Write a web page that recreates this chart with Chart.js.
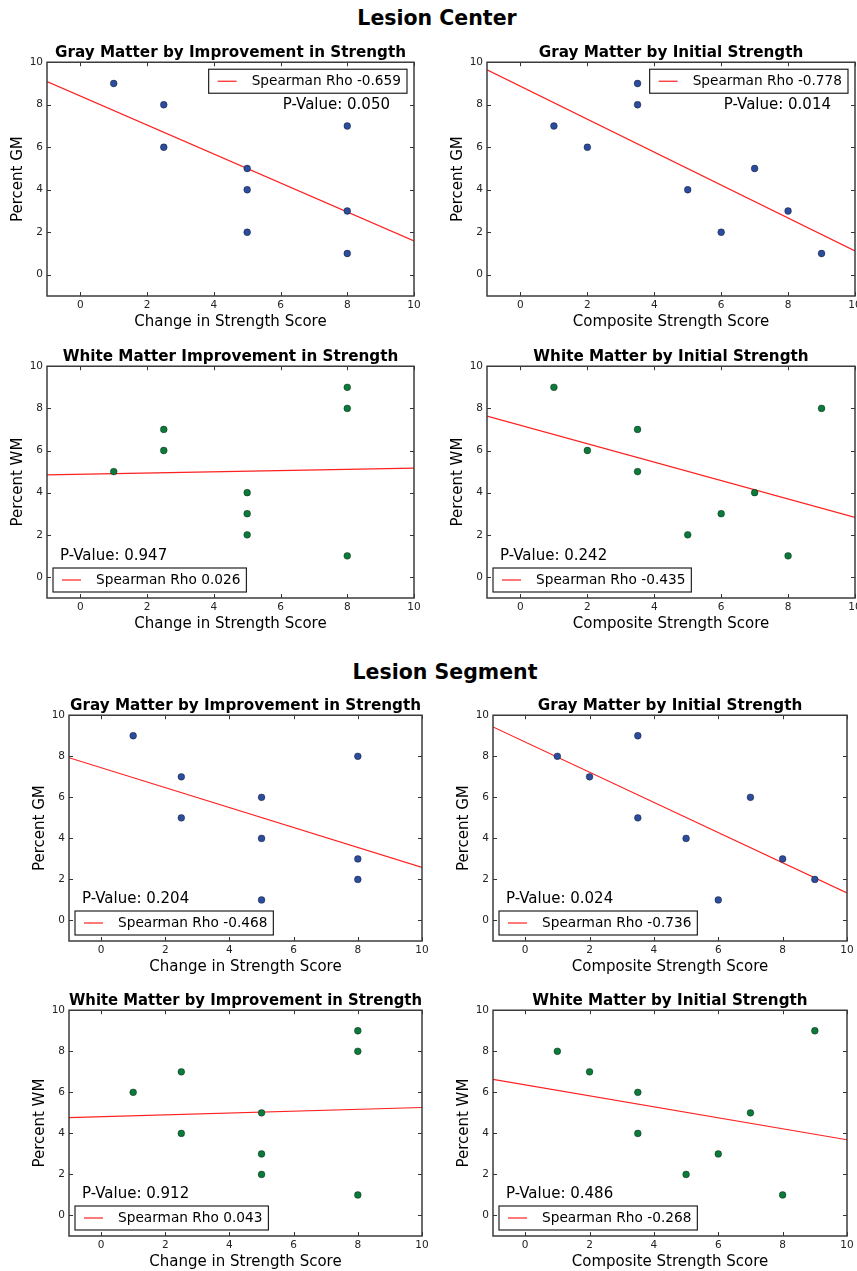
<!DOCTYPE html>
<html lang="en">
<head>
<meta charset="utf-8">
<script src="https://cdn.jsdelivr.net/npm/chart.js@4.4.0/dist/chart.umd.min.js"></script>
<style>
    html, body { margin: 0; padding: 0; background: #fff; overflow: hidden; width: 857px; height: 1271px; }
    .main { position: absolute; width: 400px; text-align: center; font: bold 20.5px "DejaVu Sans"; line-height: 24px; color: #000; }
    canvas { position: absolute; }
</style>
</head>
<body>
<div class="main" style="left:237px; top:6px;">Lesion Center</div>
<div class="main" style="left:245px; top:660px;">Lesion Segment</div>
<canvas id="c1"></canvas>
<canvas id="c2"></canvas>
<canvas id="c3"></canvas>
<canvas id="c4"></canvas>
<canvas id="c5"></canvas>
<canvas id="c6"></canvas>
<canvas id="c7"></canvas>
<canvas id="c8"></canvas>
<script>
    // x values (scores)
    var improvementScores = [1, 2.5, 2.5, 5, 5, 5, 8, 8, 8];
    var initialScores = [1, 2, 3.5, 3.5, 5, 6, 7, 8, 9];

    // percent values, lesion center
    var centerGmImprovement = [9, 8, 6, 5, 4, 2, 7, 3, 1];
    var centerGmInitial = [7, 6, 9, 8, 4, 2, 5, 3, 1];
    var centerWmImprovement = [5, 7, 6, 4, 3, 2, 9, 8, 1];
    var centerWmInitial = [9, 6, 7, 5, 2, 3, 4, 1, 8];

    // percent values, lesion segment
    var segmentGmImprovement = [9, 7, 5, 6, 4, 1, 8, 3, 2];
    var segmentGmInitial = [8, 7, 9, 5, 4, 1, 6, 3, 2];
    var segmentWmImprovement = [6, 7, 4, 5, 3, 2, 9, 8, 1];
    var segmentWmInitial = [8, 7, 6, 4, 2, 3, 5, 1, 9];

    // fit lines: y at x = -1 and x = 10
    var fitX = [-1, 10];
    var centerGmImprovementFit = [9.09, 1.59];
    var centerGmInitialFit = [9.64, 1.12];
    var centerWmImprovementFit = [4.84, 5.16];
    var centerWmInitialFit = [7.63, 2.83];
    var segmentGmImprovementFit = [7.93, 2.59];
    var segmentGmInitialFit = [9.43, 1.34];
    var segmentWmImprovementFit = [4.77, 5.26];
    var segmentWmInitialFit = [6.63, 3.69];

    var rhoValues = [-0.659, -0.778, 0.026, -0.435, -0.468, -0.736, 0.043, -0.268];
    var pValues = [0.050, 0.014, 0.947, 0.242, 0.204, 0.024, 0.912, 0.486];

    var axisRange = [-1, 10];
    var xTicks = [0, 2, 4, 6, 8, 10];
    var yTicks = [0, 2, 4, 6, 8, 10];

    var BLUE = '#2c4c9e', GREEN = '#0b7a3a';
    var LEFT = 47, RIGHT = 12, TOP = 22, BOTTOM = 40;

    var panels = [
        {id: 'c1', title: 'Gray Matter by Improvement in Strength', xl: 'Change in Strength Score', yl: 'Percent GM',
            x: improvementScores, y: centerGmImprovement, fit: centerGmImprovementFit, color: BLUE, corner: 'tr',
            box: [47, 62, 367, 234]},
        {id: 'c2', title: 'Gray Matter by Initial Strength', xl: 'Composite Strength Score', yl: 'Percent GM',
            x: initialScores, y: centerGmInitial, fit: centerGmInitialFit, color: BLUE, corner: 'tr',
            box: [487, 62, 368, 234]},
        {id: 'c3', title: 'White Matter Improvement in Strength', xl: 'Change in Strength Score', yl: 'Percent WM',
            x: improvementScores, y: centerWmImprovement, fit: centerWmImprovementFit, color: GREEN, corner: 'bl',
            box: [47, 366, 367, 232]},
        {id: 'c4', title: 'White Matter by Initial Strength', xl: 'Composite Strength Score', yl: 'Percent WM',
            x: initialScores, y: centerWmInitial, fit: centerWmInitialFit, color: GREEN, corner: 'bl',
            box: [487, 366, 368, 232]},
        {id: 'c5', title: 'Gray Matter by Improvement in Strength', xl: 'Change in Strength Score', yl: 'Percent GM',
            x: improvementScores, y: segmentGmImprovement, fit: segmentGmImprovementFit, color: BLUE, corner: 'bl',
            box: [69, 715, 353, 226]},
        {id: 'c6', title: 'Gray Matter by Initial Strength', xl: 'Composite Strength Score', yl: 'Percent GM',
            x: initialScores, y: segmentGmInitial, fit: segmentGmInitialFit, color: BLUE, corner: 'bl',
            box: [493, 715, 354, 226]},
        {id: 'c7', title: 'White Matter by Improvement in Strength', xl: 'Change in Strength Score', yl: 'Percent WM',
            x: improvementScores, y: segmentWmImprovement, fit: segmentWmImprovementFit, color: GREEN, corner: 'bl',
            box: [69, 1010, 353, 226]},
        {id: 'c8', title: 'White Matter by Initial Strength', xl: 'Composite Strength Score', yl: 'Percent WM',
            x: initialScores, y: segmentWmInitial, fit: segmentWmInitialFit, color: GREEN, corner: 'bl',
            box: [493, 1010, 354, 226]}
    ];

    Chart.defaults.font.family = '"DejaVu Sans"';
    Chart.defaults.color = '#000';

    // matplotlib style frame, inward ticks, legend box and p-value text
    var framePlugin = {
        id: 'frame',
        afterDatasetsDraw: function (chart, args, opts) {
            var ctx = chart.ctx, a = chart.chartArea, xs = chart.scales.x, ys = chart.scales.y;
            ctx.save();
            ctx.strokeStyle = '#333';
            ctx.lineWidth = 1;
            ctx.beginPath();
            xs.ticks.forEach(function (t) {
                var px = Math.round(xs.getPixelForValue(t.value)) + 0.5;
                ctx.moveTo(px, a.top); ctx.lineTo(px, a.top + 4);
                ctx.moveTo(px, a.bottom); ctx.lineTo(px, a.bottom - 4);
            });
            ys.ticks.forEach(function (t) {
                var py = Math.round(ys.getPixelForValue(t.value)) + 0.5;
                ctx.moveTo(a.left, py); ctx.lineTo(a.left + 4, py);
                ctx.moveTo(a.right, py); ctx.lineTo(a.right - 4, py);
            });
            ctx.stroke();
            ctx.strokeStyle = '#3c3c3c';
            ctx.lineWidth = 1.5;
            ctx.strokeRect(a.left, a.top, a.right - a.left, a.bottom - a.top);

            // legend
            var fitSet = chart.data.datasets[1];
            ctx.font = '13.7px "DejaVu Sans"';
            var tw = ctx.measureText(fitSet.label).width;
            var bw = tw + 49, bh = 24, bx, by;
            if (opts.corner === 'tr') { bx = a.right - 7 - bw; by = a.top + 7; }
            else { bx = a.left + 6; by = a.bottom - 6 - bh; }
            ctx.fillStyle = '#fff';
            ctx.fillRect(bx, by, bw, bh);
            ctx.lineWidth = 1.2;
            ctx.strokeStyle = '#222';
            ctx.strokeRect(bx, by, bw, bh);
            ctx.strokeStyle = fitSet.borderColor;
            ctx.lineWidth = 1.2;
            ctx.beginPath();
            ctx.moveTo(bx + 9, by + bh / 2); ctx.lineTo(bx + 28, by + bh / 2);
            ctx.stroke();
            ctx.fillStyle = '#000';
            ctx.textBaseline = 'middle';
            ctx.textAlign = 'left';
            ctx.fillText(fitSet.label, bx + 43, by + bh / 2 + 0.5);

            // p-value
            ctx.font = '15px "DejaVu Sans"';
            if (opts.corner === 'tr') {
                ctx.textAlign = 'right';
                ctx.fillText(opts.pText, a.right - 24, a.top + 43);
            } else {
                ctx.fillText(opts.pText, a.left + 13, a.bottom - 42);
            }
            ctx.restore();
        }
    };

    panels.forEach(function (p, i) {
        var cv = document.getElementById(p.id);
        var w = p.box[2] + LEFT + RIGHT, h = p.box[3] + TOP + BOTTOM;
        cv.width = w; cv.height = h;
        cv.style.width = w + 'px'; cv.style.height = h + 'px';
        cv.style.left = (p.box[0] - LEFT) + 'px';
        cv.style.top = (p.box[1] - TOP) + 'px';

        var pts = p.x.map(function (xv, k) { return {x: xv, y: p.y[k]}; });
        var line = fitX.map(function (xv, k) { return {x: xv, y: p.fit[k]}; });

        new Chart(cv.getContext('2d'), {
            type: 'scatter',
            data: {
                datasets: [{
                    label: 'points',
                    data: pts,
                    backgroundColor: p.color,
                    borderColor: 'rgba(0,0,0,0.6)',
                    borderWidth: 0.6,
                    pointRadius: 3.4
                }, {
                    type: 'line',
                    label: 'Spearman Rho ' + rhoValues[i].toFixed(3),
                    data: line,
                    borderColor: '#ff2020',
                    borderWidth: 1.2,
                    pointRadius: 0,
                    fill: false
                }]
            },
            options: {
                responsive: false,
                animation: false,
                layout: {padding: {left: 0, right: RIGHT, top: 0, bottom: 0}},
                plugins: {
                    legend: {display: false},
                    tooltip: {enabled: false},
                    title: {
                        display: true, text: p.title, fullSize: false, color: '#000',
                        font: {size: 15.2, weight: 'bold'}, padding: {top: 4, bottom: 0}
                    },
                    frame: {corner: p.corner, pText: 'P-Value: ' + pValues[i].toFixed(3)}
                },
                scales: {
                    x: {
                        type: 'linear', min: axisRange[0], max: axisRange[1],
                        grid: {display: false, drawTicks: false}, border: {display: false},
                        afterBuildTicks: function (s) { s.ticks = xTicks.map(function (v) { return {value: v}; }); },
                        afterFit: function (s) { s.height = BOTTOM; },
                        ticks: {font: {size: 10.5}, padding: 3, color: '#222', maxRotation: 0},
                        title: {display: true, text: p.xl, font: {size: 15}, padding: {top: 0, bottom: 5}}
                    },
                    y: {
                        type: 'linear', min: axisRange[0], max: axisRange[1],
                        grid: {display: false, drawTicks: false}, border: {display: false},
                        afterBuildTicks: function (s) { s.ticks = yTicks.map(function (v) { return {value: v}; }); },
                        afterFit: function (s) { s.width = LEFT; },
                        ticks: {font: {size: 10.5}, padding: 4, color: '#222'},
                        title: {display: true, text: p.yl, font: {size: 15}, padding: {top: 9, bottom: 0}}
                    }
                }
            },
            plugins: [framePlugin]
        });
    });
</script>
</body>
</html>
